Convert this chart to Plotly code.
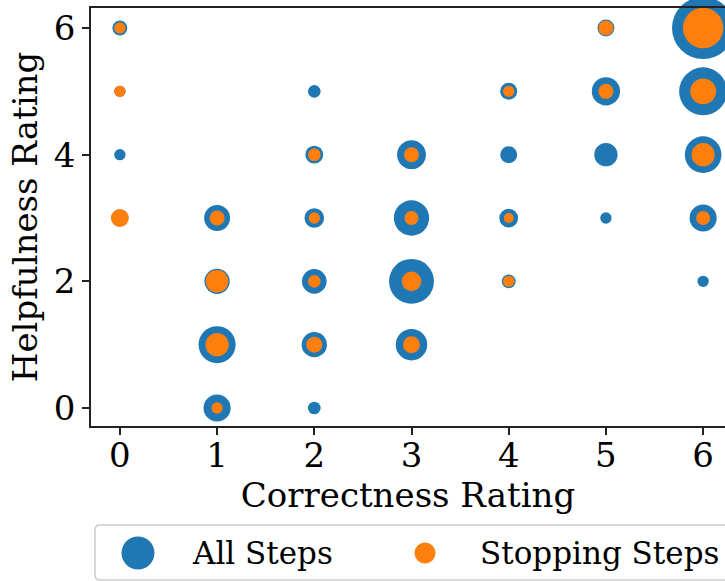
import plotly.graph_objects as go

# ---- data ----
all_x = [0, 0, 0, 0, 1, 1, 1, 1, 2, 2, 2, 2, 2, 2, 3, 3, 3, 3, 4, 4, 4, 4, 5, 5, 5, 5, 6, 6, 6, 6, 6]
all_y = [6, 5, 4, 3, 3, 2, 1, 0, 5, 4, 3, 2, 1, 0, 4, 3, 2, 1, 5, 4, 3, 2, 6, 5, 4, 3, 6, 5, 4, 3, 2]
all_n = [7, 4, 4, 9, 21, 20, 43, 23, 5, 10, 12, 19, 20, 5, 26, 39, 63, 31, 9, 9, 11, 6, 9, 25, 17, 4, 121, 72, 42, 23, 4]

stop_x = [0, 0, 0, 1, 1, 1, 1, 2, 2, 2, 2, 3, 3, 3, 3, 4, 4, 4, 5, 5, 6, 6, 6, 6]
stop_y = [6, 5, 3, 3, 2, 1, 0, 4, 3, 2, 1, 4, 3, 2, 1, 5, 3, 2, 6, 5, 6, 5, 4, 3]
stop_n = [4, 4, 10, 7, 16, 17, 4, 5, 4, 5, 8, 7, 6, 12, 9, 4, 3, 4, 7, 7, 51, 21, 17, 6]

tick_vals_x = [0, 1, 2, 3, 4, 5, 6]
tick_vals_y = [0, 2, 4, 6]
series_names = ["All Steps", "Stopping Steps"]
colors = ["#1f77b4", "#ff7f0e"]

FONT = "DejaVu Serif"
W, H = 725, 581
ML, MR, MT, MB = 91, 0, 8, 155
PW, PH = W - ML - MR, H - MT - MB

fig = go.Figure()
fig.add_trace(go.Scatter(
    x=all_x, y=all_y, mode="markers", name=series_names[0], showlegend=False,
    marker=dict(size=all_n, sizemode="area", sizeref=1 / 16, sizemin=0, opacity=1,
                color=colors[0], line=dict(width=0)),
    cliponaxis=False))
fig.add_trace(go.Scatter(
    x=stop_x, y=stop_y, mode="markers", name=series_names[1], showlegend=False,
    marker=dict(size=stop_n, sizemode="area", sizeref=1 / 16, sizemin=0, opacity=1,
                color=colors[1], line=dict(width=0)),
    cliponaxis=False))

axis_common = dict(
    showgrid=False, zeroline=False, showline=True, linecolor="#222", linewidth=1.5,
    ticks="outside", ticklen=7, tickwidth=1.5, tickcolor="#222",
    tickfont=dict(family=FONT, size=34, color="black"),
    title_font=dict(family=FONT, size=34, color="black"),
)

fig.update_layout(
    width=W, height=H,
    margin=dict(l=ML, r=MR, t=MT, b=MB, pad=0),
    paper_bgcolor="white", plot_bgcolor="white",
    showlegend=False,
    xaxis=dict(axis_common, range=[-0.297, 6.225], tickvals=tick_vals_x, mirror=True,
               ticklabelstandoff=-9,
               title=dict(text="Correctness Rating", standoff=0)),
    yaxis=dict(axis_common, range=[-0.284, 6.316], tickvals=tick_vals_y, mirror=False,
               title=dict(text="Helpfulness Rating", standoff=6)),
)

# ---- manual legend (box, symbols, labels) ----
def px(xp):
    return (xp - ML) / PW

def py(yp):
    return (H - MB - yp) / PH

bx0, bx1, by0, by1, r = 95, 740, 525, 580, 5
path = (f"M {px(bx0 + r)} {py(by0)} L {px(bx1)} {py(by0)} L {px(bx1)} {py(by1)} "
        f"L {px(bx0 + r)} {py(by1)} Q {px(bx0)} {py(by1)} {px(bx0)} {py(by1 - r)} "
        f"L {px(bx0)} {py(by0 + r)} Q {px(bx0)} {py(by0)} {px(bx0 + r)} {py(by0)} Z")
fig.add_shape(type="path", xref="paper", yref="paper", path=path,
              line=dict(color="#cccccc", width=1.5), fillcolor="rgba(255,255,255,0.8)")

legend_items = [(138, 33, 190), (425, 21, 478)]
for (cx, d, tx), name, col in zip(legend_items, series_names, colors):
    fig.add_shape(type="circle", xref="paper", yref="paper",
                  xsizemode="pixel", ysizemode="pixel",
                  xanchor=px(cx), yanchor=py(553),
                  x0=-d / 2, x1=d / 2, y0=-d / 2, y1=d / 2,
                  fillcolor=col, line=dict(width=0))
    fig.add_annotation(xref="paper", yref="paper", x=px(tx), y=py(553),
                       xanchor="left", yanchor="middle", showarrow=False,
                       text=name, font=dict(family=FONT, size=31, color="black"))

fig.write_html("out.html")
